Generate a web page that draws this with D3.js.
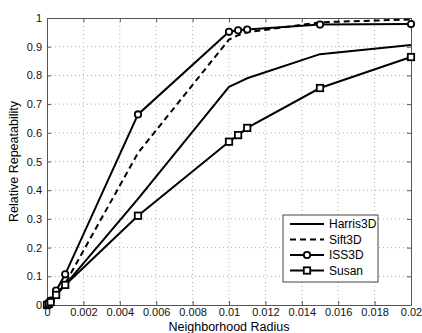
<!DOCTYPE html>
<html>
<head>
<meta charset="utf-8">
<script src="https://cdn.jsdelivr.net/npm/d3@7"></script>
<style>
  body { margin: 0; background: #fff; }
  svg { display: block; font-family: "Liberation Sans", Arial, sans-serif; }
</style>
</head>
<body>
<div id="chart"></div>
<script>
const radius = [0, 0.0001, 0.0002, 0.0005, 0.001, 0.005, 0.01, 0.0105, 0.011, 0.015, 0.02];
const harris = [0, 0.006, 0.013, 0.035, 0.07, 0.37, 0.76, 0.775, 0.79, 0.874, 0.906];
const sift = [0, 0.005, 0.01, 0.035, 0.075, 0.53, 0.925, 0.94, 0.95, 0.985, 0.995];
const iss = [0, 0.005, 0.015, 0.05, 0.107, 0.664, 0.952, 0.957, 0.96, 0.977, 0.979];
const susan = [0, 0.004, 0.01, 0.035, 0.07, 0.311, 0.569, 0.592, 0.617, 0.756, 0.864];
const seriesNames = ['Harris3D', 'Sift3D', 'ISS3D', 'Susan'];
const xTicks = [0, 0.002, 0.004, 0.006, 0.008, 0.01, 0.012, 0.014, 0.016, 0.018, 0.02];
const yTicks = [0, 0.1, 0.2, 0.3, 0.4, 0.5, 0.6, 0.7, 0.8, 0.9, 1];

const width = 422, height = 333;
const margin = { top: 18, right: 11, bottom: 28, left: 47 };
const w = width - margin.left - margin.right;
const h = height - margin.top - margin.bottom;

const svg = d3.select('#chart').append('svg')
  .attr('width', width)
  .attr('height', height);

const g = svg.append('g')
  .attr('transform', `translate(${margin.left},${margin.top})`);

const x = d3.scaleLinear().domain([0, 0.02]).range([0, w]);
const y = d3.scaleLinear().domain([0, 1]).range([h, 0]);

// dotted grid
g.append('g').selectAll('line.gx')
  .data(xTicks.slice(1, -1))
  .enter().append('line')
  .attr('x1', d => x(d)).attr('x2', d => x(d))
  .attr('y1', 0).attr('y2', h)
  .attr('stroke', '#b0b0b0').attr('stroke-width', 1)
  .attr('stroke-dasharray', '1,3');

g.append('g').selectAll('line.gy')
  .data(yTicks.slice(1, -1))
  .enter().append('line')
  .attr('x1', 0).attr('x2', w)
  .attr('y1', d => y(d)).attr('y2', d => y(d))
  .attr('stroke', '#b0b0b0').attr('stroke-width', 1)
  .attr('stroke-dasharray', '1,3');

// axes (matlab style, inward ticks, box)
const fmt = d => d === 0 ? '0' : d3.format('~g')(d);
g.append('g').attr('transform', `translate(0,${h})`)
  .call(d3.axisBottom(x).tickValues(xTicks).tickFormat(fmt).tickSizeInner(-4).tickSizeOuter(0).tickPadding(3));
g.append('g')
  .call(d3.axisLeft(y).tickValues(yTicks).tickFormat(fmt).tickSizeInner(-4).tickSizeOuter(0).tickPadding(5));
g.append('g')
  .call(d3.axisTop(x).tickValues(xTicks).tickFormat('').tickSizeInner(-4).tickSizeOuter(0));
g.append('g').attr('transform', `translate(${w},0)`)
  .call(d3.axisRight(y).tickValues(yTicks).tickFormat('').tickSizeInner(-4).tickSizeOuter(0));

g.selectAll('.domain, .tick line').attr('stroke', '#555');
g.selectAll('.tick text').attr('fill', '#111').style('font-size', '11px')
  .style('font-family', '"Liberation Sans", Arial, sans-serif');

// series
const seriesData = [harris, sift, iss, susan];
const dashes = [null, '6,4', null, null];
const markers = [null, null, 'circle', 'square'];

const line = d3.line()
  .x((d, i) => x(radius[i]))
  .y(d => y(d));

seriesData.forEach((vals, k) => {
  g.append('path')
    .datum(vals)
    .attr('fill', 'none')
    .attr('stroke', '#000')
    .attr('stroke-width', 2)
    .attr('stroke-dasharray', dashes[k])
    .attr('d', line);

  if (markers[k] === 'circle') {
    g.selectAll(null).data(vals).enter().append('circle')
      .attr('cx', (d, i) => x(radius[i]))
      .attr('cy', d => y(d))
      .attr('r', 3.2)
      .attr('fill', '#fff')
      .attr('stroke', '#000')
      .attr('stroke-width', 1.8);
  } else if (markers[k] === 'square') {
    g.selectAll(null).data(vals).enter().append('rect')
      .attr('x', (d, i) => x(radius[i]) - 3.2)
      .attr('y', d => y(d) - 3.2)
      .attr('width', 6.4).attr('height', 6.4)
      .attr('fill', '#fff')
      .attr('stroke', '#000')
      .attr('stroke-width', 1.8);
  }
});

// axis labels
svg.append('text')
  .attr('x', margin.left + w / 2)
  .attr('y', 331)
  .attr('text-anchor', 'middle')
  .style('font-size', '12.5px')
  .text('Neighborhood Radius');

svg.append('text')
  .attr('transform', `translate(18,${margin.top + h / 2}) rotate(-90)`)
  .attr('text-anchor', 'middle')
  .style('font-size', '12.5px')
  .text('Relative Repeatability');

// legend
const lx = 283, ly = 215;
const legend = svg.append('g').attr('transform', `translate(${lx},${ly})`);
legend.append('rect')
  .attr('width', 95).attr('height', 67)
  .attr('fill', '#fff').attr('stroke', '#444').attr('stroke-width', 1);

seriesNames.forEach((name, k) => {
  const yy = 9 + k * 15.5;
  legend.append('line')
    .attr('x1', 7).attr('x2', 41)
    .attr('y1', yy).attr('y2', yy)
    .attr('stroke', '#000').attr('stroke-width', 2)
    .attr('stroke-dasharray', dashes[k]);
  if (markers[k] === 'circle') {
    legend.append('circle').attr('cx', 24).attr('cy', yy).attr('r', 3.2)
      .attr('fill', '#fff').attr('stroke', '#000').attr('stroke-width', 1.8);
  } else if (markers[k] === 'square') {
    legend.append('rect').attr('x', 20.8).attr('y', yy - 3.2).attr('width', 6.4).attr('height', 6.4)
      .attr('fill', '#fff').attr('stroke', '#000').attr('stroke-width', 1.8);
  }
  legend.append('text')
    .attr('x', 46).attr('y', yy).attr('dy', '0.35em')
    .style('font-size', '12px')
    .text(name);
});
</script>
</body>
</html>
